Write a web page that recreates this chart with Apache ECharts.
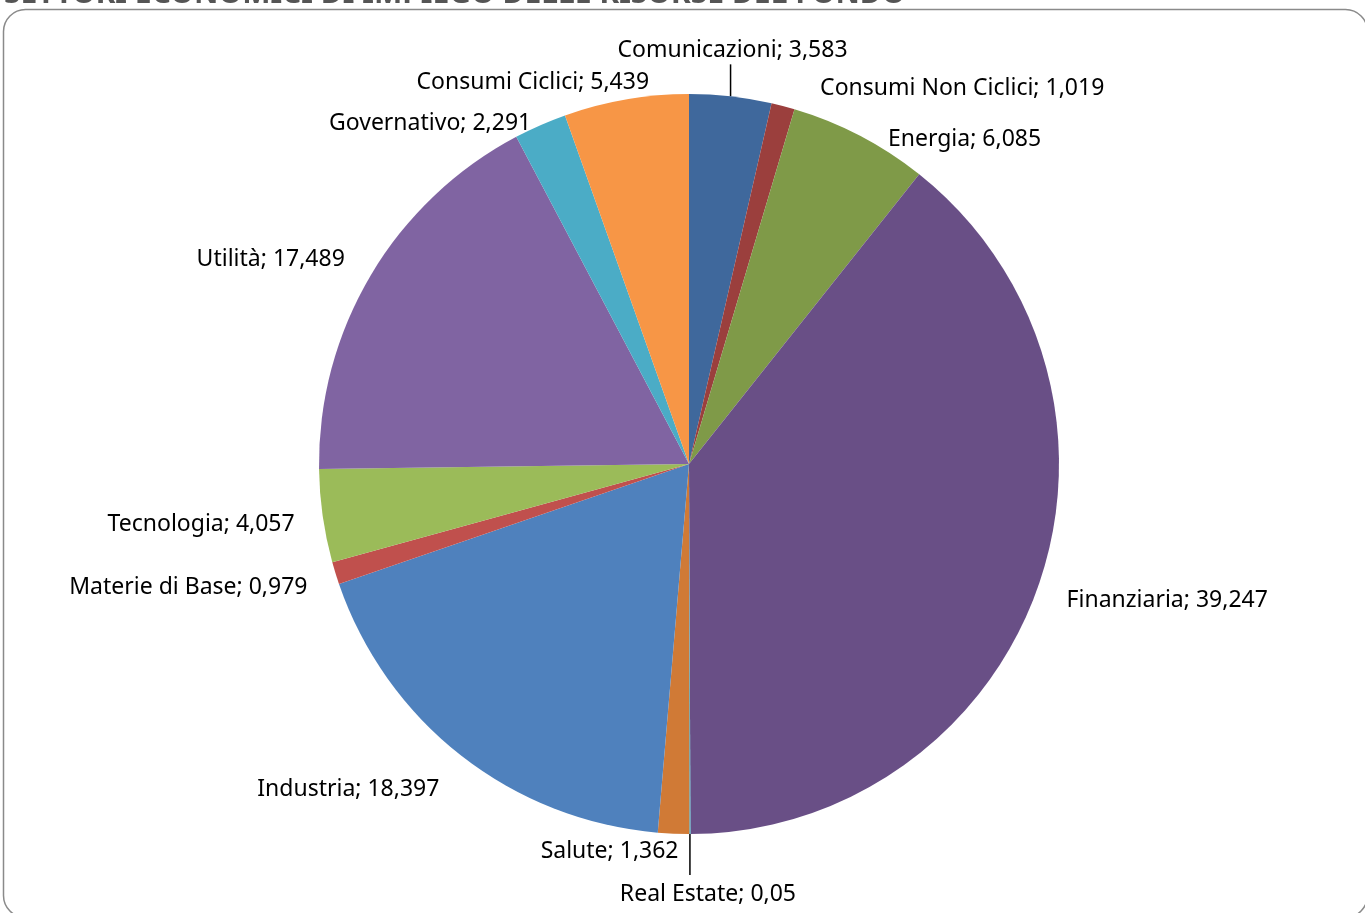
<!DOCTYPE html>
<html>
<head>
<meta charset="utf-8">
<script src="https://cdn.jsdelivr.net/npm/echarts@6/dist/echarts.min.js"></script>
<style>
	html, body { margin: 0; padding: 0; background: #fff; }
	#chart { width: 1365px; height: 913px; }
</style>
</head>
<body>
<div id="chart"></div>
<script>
	// settori, in senso orario partendo dalle ore 12
	const categories = ['Comunicazioni', 'Consumi Non Ciclici', 'Energia', 'Finanziaria', 'Real Estate', 'Salute',
		'Industria', 'Materie di Base', 'Tecnologia', 'Utilità', 'Governativo', 'Consumi Ciclici'];
	const values = [3.583, 1.019, 6.085, 39.247, 0.05, 1.362, 18.397, 0.979, 4.057, 17.489, 2.291, 5.439];
	const colors = ['#3F689C', '#9B3F3D', '#7F9A48', '#694F86', '#3BA6C0', '#D07A36',
		'#4F81BD', '#C0504D', '#9BBB59', '#8064A2', '#4BACC6', '#F79646'];
	const title = 'SETTORI ECONOMICI DI IMPIEGO DELLE RISORSE DEL FONDO';

	const cx = 689, cy = 464, R = 370;
	// spostamento etichette rispetto al punto medio dell'arco [dx, dy, allineamento]
	const labelNudge = [
		[2, -46, 'center'], [37, -18, 'left'], [28, 4, 'left'], [28, 15, 'left'],
		[18, 60, 'center'], [5, 18, 'right'], [-22, 34, 'right'], [-28, 14, 'right'],
		[-28, 8, 'right'], [-26, -16, 'right'], [-9, -2, 'right'], [23, -17, 'right']
	];

	const total = values.reduce((a, b) => a + b, 0);
	const midPoint = [];
	let acc = 0;
	values.forEach(v => {
		const a = (acc + v / 2) / total * Math.PI * 2;
		midPoint.push([cx + R * Math.sin(a), cy - R * Math.cos(a)]);
		acc += v;
	});

	const myChart = echarts.init(document.getElementById('chart'));
	myChart.setOption({
		animation: false,
		graphic: [{
			type: 'rect',
			shape: { x: 3.5, y: 9.5, width: 1364, height: 908, r: 22 },
			style: { fill: 'none', stroke: '#8a8a8a', lineWidth: 1.5 }
		}, {
			type: 'text',
			x: 4, y: 9,
			style: {
				text: title,
				fill: '#555',
				font: 'bold 30px "Noto Sans"',
				verticalAlign: 'bottom'
			}
		}],
		series: [{
			type: 'pie',
			center: [cx, cy],
			radius: R,
			startAngle: 90,
			clockwise: true,
			avoidLabelOverlap: false,
			data: categories.map((name, i) => ({
				name: name,
				value: values[i],
				itemStyle: { color: colors[i] },
				labelLine: { show: i === 0 || i === 4 }
			})),
			label: {
				position: 'outside',
				color: '#000',
				fontFamily: 'Noto Sans',
				fontSize: 23,
				formatter: p => p.name + '; ' + String(p.value).replace('.', ',')
			},
			labelLine: {
				show: false,
				lineStyle: { color: '#000', width: 1.5 }
			},
			labelLayout: function (params) {
				const i = params.dataIndex;
				const m = midPoint[i];
				const n = labelNudge[i];
				const out = { x: m[0] + n[0], y: m[1] + n[1], align: n[2], verticalAlign: 'middle' };
				if (i === 0) out.labelLinePoints = [[m[0], m[1]], [m[0], m[1] - 32], [m[0], m[1] - 32]];
				if (i === 4) out.labelLinePoints = [[m[0], m[1]], [m[0], m[1] + 41], [m[0], m[1] + 41]];
				return out;
			},
			itemStyle: { borderWidth: 0 },
			emphasis: { disabled: true }
		}]
	});
</script>
</body>
</html>
